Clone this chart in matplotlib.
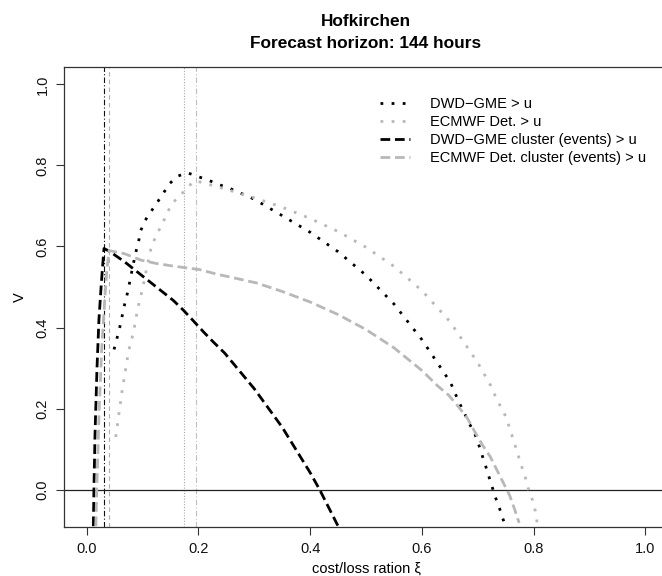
import matplotlib
matplotlib.use("Agg")
import matplotlib.pyplot as plt
from matplotlib.lines import Line2D

plt.rcParams['font.family'] = ['Liberation Sans', 'DejaVu Sans']

# ---- data ----
xi_dwd = [0.049, 0.054, 0.059, 0.063, 0.067, 0.072, 0.076, 0.080, 0.084, 0.088, 0.093, 0.097,
          0.105, 0.116, 0.127, 0.138, 0.149, 0.164, 0.180, 0.198, 0.217, 0.236, 0.255, 0.273,
          0.292, 0.308, 0.35, 0.40, 0.45, 0.50, 0.55, 0.60, 0.651, 0.659, 0.667, 0.676, 0.684,
          0.694, 0.701, 0.707, 0.713, 0.719, 0.725, 0.731, 0.738, 0.744, 0.750]
v_dwd = [0.346, 0.372, 0.399, 0.425, 0.452, 0.479, 0.505, 0.533, 0.560, 0.586, 0.613, 0.640,
         0.665, 0.688, 0.710, 0.733, 0.756, 0.774, 0.782, 0.773, 0.764, 0.753, 0.744, 0.733,
         0.722, 0.710, 0.676, 0.635, 0.587, 0.529, 0.458, 0.370, 0.265, 0.239, 0.214, 0.189, 0.165,
         0.140, 0.114, 0.088, 0.063, 0.036, 0.010, -0.017, -0.042, -0.068, -0.092]

xi_ecm = [0.052, 0.063, 0.074, 0.078, 0.084, 0.087, 0.091, 0.095, 0.100, 0.108, 0.116, 0.124,
          0.133, 0.142, 0.150, 0.162, 0.176, 0.190, 0.195, 0.25, 0.30, 0.35, 0.40, 0.45, 0.50,
          0.55, 0.60, 0.65, 0.70, 0.723, 0.731, 0.740, 0.749, 0.756, 0.762, 0.768, 0.774, 0.780,
          0.786, 0.791, 0.798, 0.803, 0.806]
v_ecm = [0.13, 0.24, 0.333, 0.360, 0.388, 0.415, 0.443, 0.469, 0.495, 0.550, 0.601, 0.625,
         0.650, 0.675, 0.700, 0.720, 0.738, 0.759, 0.762, 0.741, 0.720, 0.697, 0.669, 0.637, 0.598,
         0.551, 0.491, 0.415, 0.313, 0.257, 0.232, 0.207, 0.183, 0.156, 0.130, 0.104, 0.077, 0.051,
         0.026, 0.0, -0.026, -0.053, -0.081]

xi_dwdc = [0.012, 0.013, 0.015, 0.0185, 0.022, 0.0263, 0.031, 0.041, 0.069, 0.090, 0.112, 0.134,
           0.155, 0.173, 0.190, 0.210, 0.227, 0.247, 0.30, 0.35, 0.40, 0.417, 0.45]
v_dwdc = [-0.09, 0.0, 0.14, 0.30, 0.42, 0.51, 0.595, 0.588, 0.561, 0.538, 0.514, 0.490,
          0.467, 0.443, 0.418, 0.388, 0.364, 0.337, 0.249, 0.154, 0.042, 0.0, -0.090]

xi_ecmc = [0.0165, 0.018, 0.0225, 0.027, 0.032, 0.036, 0.040, 0.068, 0.098, 0.125, 0.158, 0.202,
           0.235, 0.262, 0.304, 0.35, 0.40, 0.45, 0.50, 0.55, 0.60, 0.629, 0.648, 0.664, 0.681,
           0.695, 0.708, 0.722, 0.734, 0.746, 0.757, 0.766, 0.774]
v_ecmc = [-0.09, 0.0, 0.20, 0.35, 0.46, 0.54, 0.59, 0.582, 0.566, 0.558, 0.551, 0.543,
          0.531, 0.523, 0.510, 0.489, 0.463, 0.432, 0.395, 0.350, 0.294, 0.255, 0.233, 0.207, 0.177,
          0.142, 0.111, 0.082, 0.049, 0.016, -0.014, -0.049, -0.082]

vlines_x = [0.031, 0.040, 0.174, 0.195]

labels = ["DWD\u2212GME > u", "ECMWF Det. > u",
          "DWD\u2212GME cluster (events) > u", "ECMWF Det. cluster (events) > u"]
xticks = [0.0, 0.2, 0.4, 0.6, 0.8, 1.0]
yticks = [0.0, 0.2, 0.4, 0.6, 0.8, 1.0]

# ---- figure ----
W, H = 662, 576
fig = plt.figure(figsize=(W / 100, H / 100), dpi=100)
L, R, T, B = 64.3, 667.8, 67.3, 527.0
ax = fig.add_axes([L / W, 1 - B / H, (R - L) / W, (B - T) / H])
ax.set_xlim(-0.04, 1.04)
ax.set_ylim(-0.092, 1.042)

BLACK = '#000000'
GRAY = '#b8b8b8'
lw = 2.0
dot = (0, (1, 3))
dash = (0, (3.5, 1.7))

# vertical reference lines
ax.axvline(vlines_x[0], color='#111111', lw=0.8, ls=(0, (5, 2, 1, 2)))
ax.axvline(vlines_x[1], color='#b0b0b0', lw=0.8, ls=(0, (4, 3)))
ax.axvline(vlines_x[2], color='#a8a8a8', lw=0.8, ls=(0, (1, 1.5)))
ax.axvline(vlines_x[3], color='#c0c0c0', lw=0.8, ls=(0, (5, 2, 1, 2)))
ax.axhline(0.0, color='#222222', lw=0.9)

ax.plot(xi_dwd, v_dwd, color=BLACK, lw=lw, ls=dot)
ax.plot(xi_ecm, v_ecm, color=GRAY, lw=lw, ls=dot)
ax.plot(xi_dwdc, v_dwdc, color=BLACK, lw=lw, ls=dash)
ax.plot(xi_ecmc, v_ecmc, color=GRAY, lw=lw, ls=dash)

for s in ax.spines.values():
    s.set_color('#333333')
    s.set_linewidth(0.9)

ax.set_xticks(xticks)
ax.set_yticks(yticks)
ax.set_xticklabels([f"{t:.1f}" for t in xticks])
ax.set_yticklabels([f"{t:.1f}" for t in yticks])
ax.tick_params(direction='out', length=5.5, width=0.8, color='#333333',
               labelsize=10.5, labelcolor='#111111', pad=5)
for lab in ax.get_yticklabels():
    lab.set_rotation(90)
    lab.set_va('center')
    lab.set_ha('right')

fig.text(20 / W, 1 - 297 / H, "V", rotation=90, ha='center', va='center', fontsize=10.5)
fig.text(366 / W, 1 - 569 / H, "cost/loss ration \u03be", ha='center', va='center', fontsize=10.5)
fig.text(366 / W, 1 - 21.7 / H, "Hofkirchen", ha='center', va='center',
         fontsize=12.4, fontweight='bold')
fig.text(366 / W, 1 - 43.3 / H, "Forecast horizon: 144 hours", ha='center', va='center',
         fontsize=12.4, fontweight='bold')

handles = [Line2D([], [], color=BLACK, lw=lw, ls=dot),
           Line2D([], [], color=GRAY, lw=lw, ls=dot),
           Line2D([], [], color=BLACK, lw=lw, ls=dash),
           Line2D([], [], color=GRAY, lw=lw, ls=dash)]
ax.legend(handles, labels, loc='upper left', bbox_to_anchor=(380 / W, 1 - 97.5 / H),
          bbox_transform=fig.transFigure, frameon=False, fontsize=10.5,
          handlelength=2.06, handletextpad=1.37, labelspacing=0.27,
          borderpad=0, borderaxespad=0)

fig.savefig("out.png", dpi=100)
